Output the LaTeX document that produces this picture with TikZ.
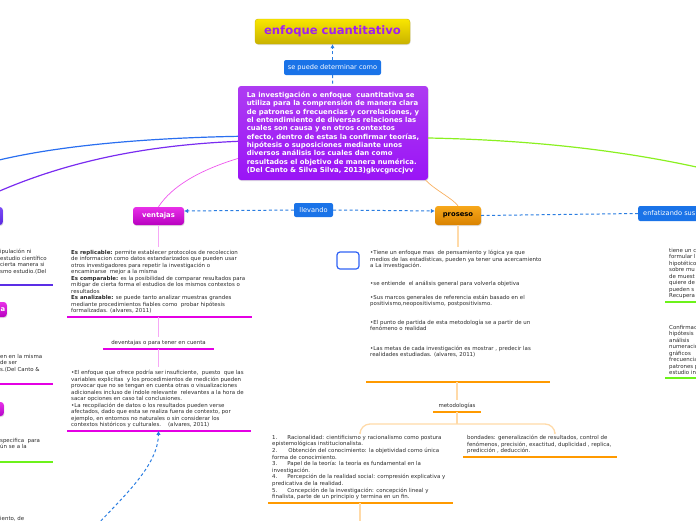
\documentclass[tikz,border=0pt]{standalone}
\usepackage{fontspec}
\setmainfont{DejaVu Sans}
\usetikzlibrary{arrows.meta,shadows}

\definecolor{txt}{HTML}{2A2A2A}
\definecolor{lnkblue}{HTML}{2A7DE1}
\definecolor{boxblue}{HTML}{1A73E8}
\definecolor{eblue}{HTML}{2F62F5}
\definecolor{mag}{HTML}{E400E4}
\definecolor{magl}{HTML}{F6A8F6}
\definecolor{magc}{HTML}{EE55EE}
\definecolor{org}{HTML}{FF9A00}
\definecolor{orgl}{HTML}{FFDAA8}
\definecolor{orgc}{HTML}{F8B060}
\definecolor{grn}{HTML}{6CF21A}
\definecolor{grnc}{HTML}{8AF020}
\definecolor{bpur}{HTML}{5B2EE6}
\definecolor{cblue}{HTML}{2A6FF0}
\definecolor{cpur}{HTML}{7A2CF0}
\definecolor{vio}{HTML}{A020F0}
\definecolor{ttop}{HTML}{F9E600}
\definecolor{tbot}{HTML}{C9B200}
\definecolor{ctop}{HTML}{AE3CF2}
\definecolor{cbot}{HTML}{9A14F6}
\definecolor{vtop}{HTML}{E830E8}
\definecolor{vbot}{HTML}{B800C0}
\definecolor{otop}{HTML}{F7A81B}
\definecolor{obot}{HTML}{D98200}
\definecolor{ptop}{HTML}{7C4CF6}
\definecolor{pbot}{HTML}{5A28E0}

\tikzset{
  sm/.style={font=\fontsize{5.45}{6.5}\selectfont},
  topic/.style={sm, text=txt, align=left, inner xsep=4pt, inner ysep=3pt, anchor=north west},
  bluelbl/.style={fill=boxblue, text=white, rounded corners=2pt, font=\fontsize{6.6}{7}\selectfont, inner sep=0pt},
  shbox/.style={rounded corners=3pt, inner sep=0pt,
    drop shadow={opacity=0.25, shadow xshift=0.6pt, shadow yshift=-1pt}},
  boldlbl/.style={font=\fontsize{6.8}{8}\selectfont\bfseries},
  dashlink/.style={draw=lnkblue, line width=1pt, dash pattern=on 3pt off 2.5pt},
  atip/.style={-{Latex[length=4pt,width=4.5pt]}},
  conn/.style={line width=1.3pt},
  uline/.style={line width=2.2pt},
}

\begin{document}
\begin{tikzpicture}[x=1pt,y=-1pt]
\useasboundingbox (0,0) rectangle (696,520);
\clip (0,0) rectangle (696,520);
%
% main topics
\node[shbox, top color=ttop, bottom color=tbot, draw=tbot, text=vio,
  font=\fontsize{11.6}{12}\selectfont\bfseries, minimum width=155, minimum height=25]
  (title) at (332.5,31.5) {enfoque cuantitativo};
\node[bluelbl, minimum width=97, minimum height=15] (selbl) at (332.5,67.5) {se puede determinar como};
\node[shbox, top color=ctop, bottom color=cbot, text=white, align=left,
  font=\fontsize{6.9}{8.3}\selectfont\bfseries, minimum width=190, minimum height=94, inner xsep=6pt]
  (central) at (333,133) {La investigación o enfoque\ \ cuantitativa se\\
  utiliza para la comprensión de manera clara\\
  de patrones o frecuencias y correlaciones, y\\
  el entendimiento de diversas relaciones las\\
  cuales son causa y en otros contextos\\
  efecto, dentro de estas la confirmar teorías,\\
  hipótesis o suposiciones mediante unos\\
  diversos análisis los cuales dan como\\
  resultados el objetivo de manera numérica.\\
  (Del Canto \& Silva Silva, 2013)gkvcgnccjvv};
\node[shbox, top color=vtop, bottom color=vbot, text=white, boldlbl,
  minimum width=51, minimum height=18] (vent) at (158.5,216) {ventajas};
\node[bluelbl, minimum width=39, minimum height=14] (llev) at (313.5,210) {llevando};
\node[shbox, top color=otop, bottom color=obot, text=black, boldlbl,
  minimum width=46, minimum height=19] (proc) at (458,215.5) {proseso};
\node[bluelbl, anchor=west, minimum height=15, inner xsep=5pt] (enf) at (638,213.5) {enfatizando sus};
\node[draw=eblue, line width=1.2pt, rounded corners=3pt, minimum width=22, minimum height=17,
  inner sep=0pt] (ebox) at (348,260.5) {};
%
% topics cut at the left edge
\node[shbox, top color=ptop, bottom color=pbot, minimum width=23, minimum height=18, anchor=east] (pn1) at (3,216) {};
\node[shbox, top color=vtop, bottom color=vbot, text=white, boldlbl, minimum height=15,
  text width=20, align=right, inner xsep=1.5pt, anchor=east] (pn2) at (7,309.5) {a};
\node[shbox, top color=vtop, bottom color=vbot!80!vio, minimum width=24, minimum height=14, anchor=east] (pn3) at (4,409) {};
%
% notes
\node[topic] (vtext) at (67,247) {\textbf{Es replicable:} permite establecer protocolos de recoleccion\\
de informacion como datos estandarizados que pueden usar\\
otros investigadores para repetir la investigación o\\
encaminarse\ \ mejor a la misma\\
\textbf{Es comparable:} es la posibilidad de comparar resultados para\\
mitigar de cierta forma el estudios de los mismos contextos o\\
resultados\\
\textbf{Es analizable:} se puede tanto analizar muestras grandes\\
mediante procedimientos fiables como\ \ probar hipótesis\\
formalizadas. (alvares, 2011)};
\node[topic, anchor=north, align=center] (desv) at (158.5,337) {deventajas o para tener en cuenta};
\node[topic] (dtext) at (67,367) {•El enfoque que ofrece podría ser insuficiente,\ \ puesto\ \ que las\\
variables explicitas\ \ y los procedimientos de medición pueden\\
provocar que no se tengan en cuenta otras o visualizaciones\\
adicionales incluso de índole relevante\ \ relevantes a la hora de\\
sacar opciones en caso tal conclusiones.\\
•La recopilación de datos o los resultados pueden verse\\
afectados, dado que esta se realiza fuera de contexto, por\\
ejemplo, en entornos no naturales o sin considerar los\\
contextos históricos y culturales.\ \ \ \ (alvares, 2011)};
\node[topic] (ptext) at (366,247) {•Tiene un enfoque mas\ \ de pensamiento y lógica ya que\\
medios de las estadísticas, pueden ya tener una acercamiento\\
a La investigación.\\[11.3pt]
•se entiende\ \ el análisis general para volverla objetiva\\[7.5pt]
•Sus marcos generales de referencia están basado en el\\
positivismo,neopositivismo, postpositivismo.\\[12pt]
•El punto de partida de esta metodología se a partir de un\\
fenómeno o realidad\\[13pt]
•Las metas de cada investigación es mostrar , predecir las\\
realidades estudiadas. (alvares, 2011)\rule[-22pt]{0pt}{0pt}};
\node[topic, anchor=north, align=center] (metod) at (457,400) {metodologías};
\node[topic, font=\fontsize{5.45}{6.6}\selectfont] (ltext) at (268,432) {1.\hspace{10pt}Racionalidad: cientificismo y racionalismo como postura\\
epistemológicas institucionalista.\\
2.\hspace{11pt}Obtención del conocimiento: la objetividad como única\\
forma de conocimiento.\\
3.\hspace{10pt}Papel de la teoría: la teoría es fundamental en la\\
investigación.\\
4.\hspace{10pt}Percepción de la realidad social: compresión explicativa y\\
predicativa de la realidad.\\
5.\hspace{10pt}Concepción de la investigación: concepción lineal y\\
finalista, parte de un principio y termina en un fin.};
\node[topic] (btext) at (463,432) {bondades: generalización de resultados, control de\\
fenómenos, precisión, exactitud, duplicidad , replica,\\
predicción , deducción.};
\node[topic] (rt1) at (665,245) {tiene un c\\ formular l\\ hipotético\\ sobre mu\\ de muest\\ quiere de\\ pueden s\\ Recupera};
\node[topic] (rt2) at (665,322) {Confirmac\\ hipótesis\\ análisis\\ numeració\\ gráficos\\ frecuencia\\ patrones p\\ estudio in};
\node[topic, inner xsep=0pt] (lt1) at (0,246) {ipulación ni\\ estudio científico\\ cierta manera si\\ smo estudio.(Del\rule[-9pt]{0pt}{0pt}};
\node[topic, inner xsep=0pt] (lt2) at (0,351) {en en la misma\\ de ser\\ s.(Del Canto \&\rule[-9.3pt]{0pt}{0pt}};
\node[topic, inner xsep=0pt] (lt3) at (0,435) {specifica\ \ para\\ ún se a la\rule[-10pt]{0pt}{0pt}};
\node[topic, inner xsep=0pt] (lt4) at (0,513) {iento, de};
%
% underlines
\draw[uline, mag] (vtext.south west) -- ++(185,0);
\draw[uline, mag] (desv.south) ++(-55.5,0) -- ++(111,0);
\draw[uline, mag] (dtext.south west) -- ++(184,0);
\draw[uline, org] (ptext.south west) -- ++(184,0);
\draw[uline, org] (metod.south) ++(-24,0) -- ++(48,0);
\draw[uline, org] (ltext.south west) -- ++(185,0);
\draw[uline, org] (btext.south west) -- ++(154,0);
\draw[uline, grn] (rt1.south west) -- ++(40,0);
\draw[uline, grn] (rt2.south west) -- ++(40,0);
\draw[uline, bpur] (lt1.south west) -- ++(53,0);
\draw[uline, mag] (lt2.south west) -- ++(53,0);
\draw[uline, grn] (lt3.south west) -- ++(53,0);
%
% ends out of view
\coordinate (offL1) at (-5,161);
\coordinate (offL2) at (-5,193);
\coordinate (offR) at (701,168);
\coordinate (offB) at (97,525);
\coordinate (offB2) at (360,525);
\coordinate (brL) at (360,432);
\coordinate (brR) at (555,432);
\coordinate (brtop) at (457,424);
%
% links
\draw[dashlink, atip] (selbl) -- (title);
\draw[dashlink] (selbl) -- (central);
\draw[dashlink, atip] (llev.west) -- (vent.11);
\draw[dashlink, atip] (llev.east) -- (proc.169);
\draw[dashlink] (proc.east) -- (enf.west);
\draw[dashlink, atip] (offB) .. controls (125,495) and (158,465) .. (dtext.south -| desv.south);
\draw[line width=1.2pt, cblue] (central.182) .. controls (150,138) and (60,145) .. (offL1);
\draw[line width=1.2pt, cpur] (central.185) .. controls (150,145) and (70,160) .. (offL2);
\draw[line width=1.2pt, grnc] (central.357) .. controls (530,140) and (620,150) .. (offR);
\draw[line width=0.7pt, magc] (central.195) .. controls (200,170) and (172,186) .. (vent.north);
\draw[line width=0.7pt, orgc] (central.333) .. controls (435,190) and (452,198) .. (proc.north);
\draw[conn, magl] (vent.south) -- (vent.south |- vtext.north);
\draw[conn, magl] (desv.north |- vtext.south) -- (desv.north);
\draw[conn, magl] (desv.south) -- (desv.south |- dtext.north);
\draw[conn, orgl] (proc.south) -- (proc.south |- ptext.north);
\draw[conn, orgl] (metod.north |- ptext.south) -- (metod.north);
\draw[conn, orgl] (metod.south) -- (metod.south |- brtop);
\draw[conn, orgl, rounded corners=10pt] (brL) |- (brtop) -| (brR);
\draw[conn, orgl] (brL |- ltext.south) -- (offB2);
%
\end{tikzpicture}
\end{document}
